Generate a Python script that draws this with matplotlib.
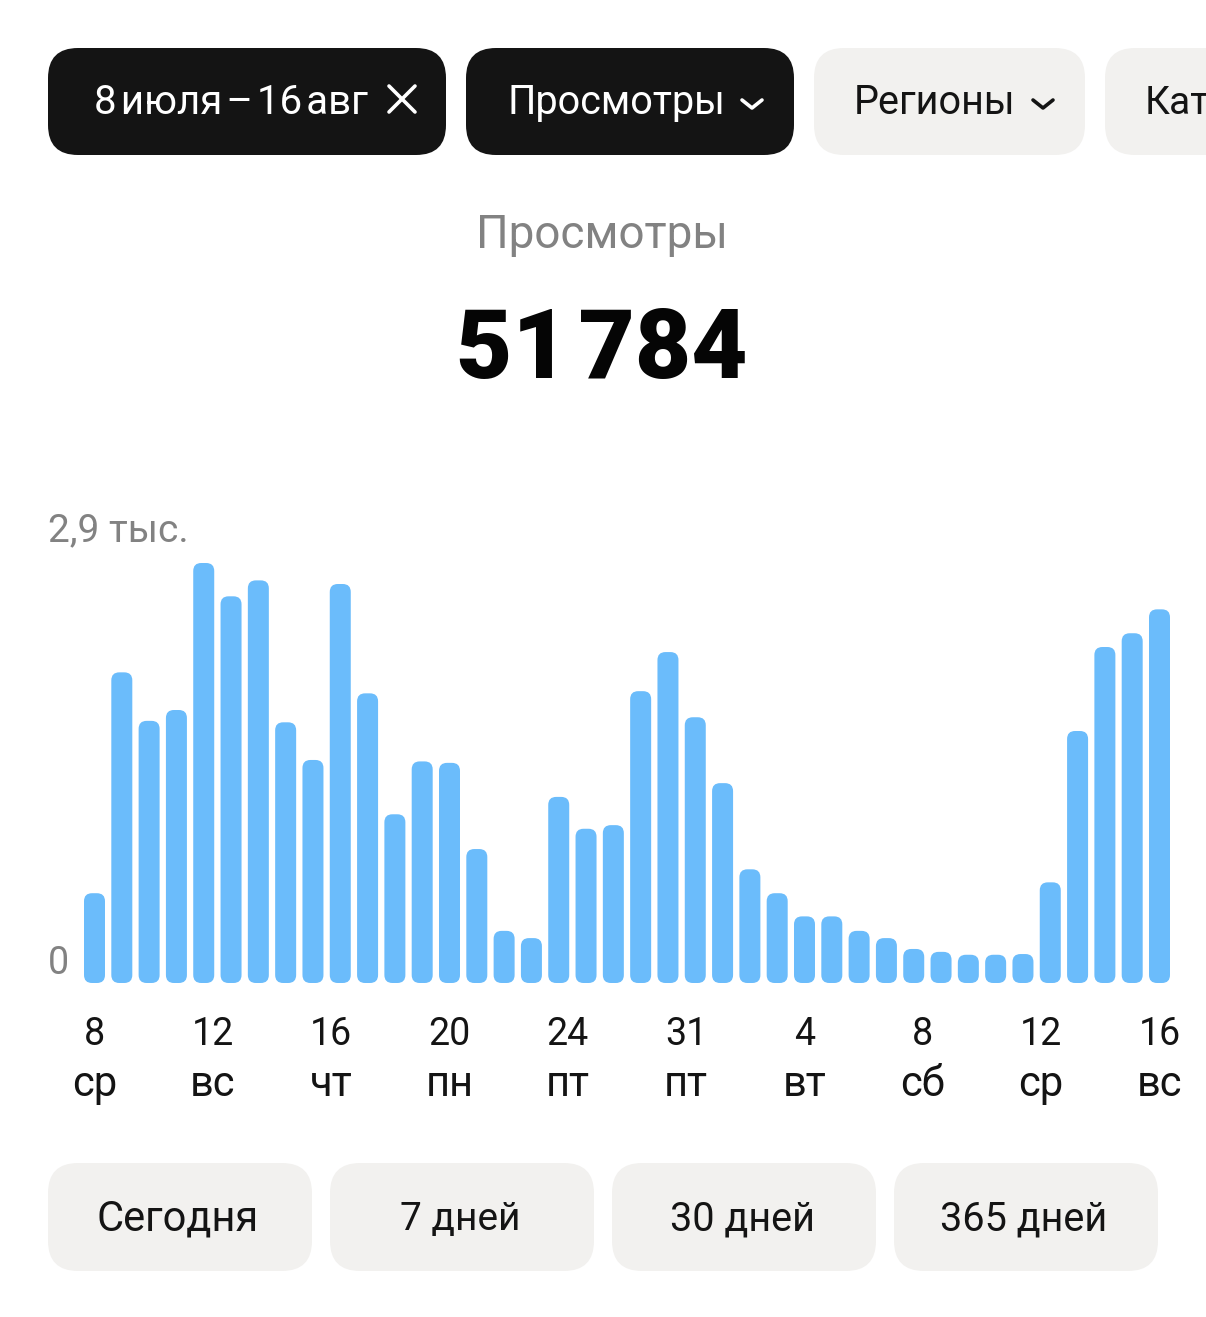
import matplotlib
matplotlib.use("Agg")
import matplotlib.pyplot as plt
from matplotlib.patches import FancyBboxPatch
import numpy as np

W, H = 1206, 1317

# views per day
views = [620, 2145, 1810, 1885, 2900, 2670, 2780, 1800, 1540, 2755, 2000, 1165, 1530, 1520,
         925, 360, 310, 1285, 1065, 1090, 2015, 2285, 1835, 1380, 785, 620, 460, 460, 360,
         310, 235, 215, 195, 195, 200, 695, 1740, 2320, 2415, 2580]
tick_days = ["8", "12", "16", "20", "24", "31", "4", "8", "12", "16"]
tick_names = ["ср", "вс", "чт", "пн", "пт", "пт", "вт", "сб", "ср", "вс"]
bottom_pills = ["Сегодня", "7 дней", "30 дней", "365 дней"]
bottom_sizes = [30, 28, 28.5, 28.5]

plt.rcParams['font.family'] = ['Roboto', 'DejaVu Sans']

fig = plt.figure(figsize=(W / 100, H / 100), dpi=100, facecolor="white")

# overlay in pixel coordinates for the buttons and headings
bg = fig.add_axes([0, 0, 1, 1])
bg.set_xlim(0, W)
bg.set_ylim(H, 0)
bg.axis("off")


def pill(x, y, w, h, color, r=30):
    bg.add_patch(FancyBboxPatch((x + r, y + r), w - 2 * r, h - 2 * r,
                                boxstyle=f"round,pad={r},rounding_size={r}",
                                fc=color, ec="none"))


pill(48, 48, 398, 107, "#141414")
bg.text(231, 103, "8\u200aиюля\u200a–\u200a16\u200aавг", color="white", fontsize=29, ha="center", va="center")
bg.plot([389, 415], [86, 112], color="white", lw=2.6, solid_capstyle="round")
bg.plot([389, 415], [112, 86], color="white", lw=2.6, solid_capstyle="round")

pill(466, 48, 328, 107, "#141414")
bg.text(616, 103, "Просмотры", color="white", fontsize=28.5, ha="center", va="center")
bg.plot([742, 752, 762], [100, 108, 100], color="white", lw=2.6, solid_capstyle="round",
        solid_joinstyle="round")

pill(814, 48, 271, 107, "#f2f1ef")
bg.text(935, 103, "Регионы", color="#141414", fontsize=28.5, ha="center", va="center")
bg.plot([1033, 1043, 1053], [100, 108, 100], color="#141414", lw=2.6, solid_capstyle="round",
        solid_joinstyle="round")

pill(1105, 48, 200, 107, "#f2f1ef")
bg.text(1145, 103, "Кат", color="#141414", fontsize=28, ha="left", va="center")

bg.text(602, 235, "Просмотры", color="#828282", fontsize=33, ha="center", va="center")
bg.text(602, 352, "51\u200a784", color="#050505", fontsize=70, fontweight="black", ha="center", va="center")

bg.text(48, 531, "2,9 тыс.", color="#828282", fontsize=28, ha="left", va="center")
bg.text(48, 963, "0", color="#828282", fontsize=27, ha="left", va="center")

for i, label in enumerate(bottom_pills):
    x = 48 + i * 282
    pill(x, 1163, 264, 108, "#f2f1ef")
    bg.text(x + 130, 1219, label, color="#141414", fontsize=bottom_sizes[i], ha="center", va="center")

# bar chart
left, right, base, top = 48, 1206, 983, 563
ax = fig.add_axes([left / W, 1 - base / H, (right - left) / W, (base - top) / H])
ax.patch.set_alpha(0)
step = (1159.5 - 94.5) / 39
ax.set_xlim((left - 94.5) / step, (right - 94.5) / step)
ax.set_ylim(0, max(views))

bars = ax.bar(range(len(views)), views, width=21 / step, color="#6bbcfb")
aspect = (max(views) / (base - top)) / (1 / step)
rad = 8 / step
for b in bars:
    b.set_visible(False)
    x0, w, v = b.get_x(), b.get_width(), b.get_height()
    ax.add_patch(FancyBboxPatch((x0 + rad, rad * aspect), w - 2 * rad, v - 2 * rad * aspect,
                                boxstyle=f"round,pad={rad},rounding_size={rad}",
                                mutation_aspect=aspect, fc="#6bbcfb", ec="none", clip_on=False))

# day number as major tick label, weekday as minor one further down
tick_pos = np.linspace(0, len(views) - 1, len(tick_days))
ax.xaxis.remove_overlapping_locs = False
ax.set_xticks(tick_pos)
ax.set_xticklabels(tick_days, fontsize=27, color="#141414")
ax.set_xticks(tick_pos, minor=True)
ax.set_xticklabels(tick_names, minor=True, fontsize=30, color="#141414")
ax.tick_params(axis="x", which="major", length=0, pad=24)
ax.tick_params(axis="x", which="minor", length=0, pad=58)
ax.set_yticks([])
for s in ax.spines.values():
    s.set_visible(False)

fig.savefig("out.png", dpi=100, facecolor="white")
